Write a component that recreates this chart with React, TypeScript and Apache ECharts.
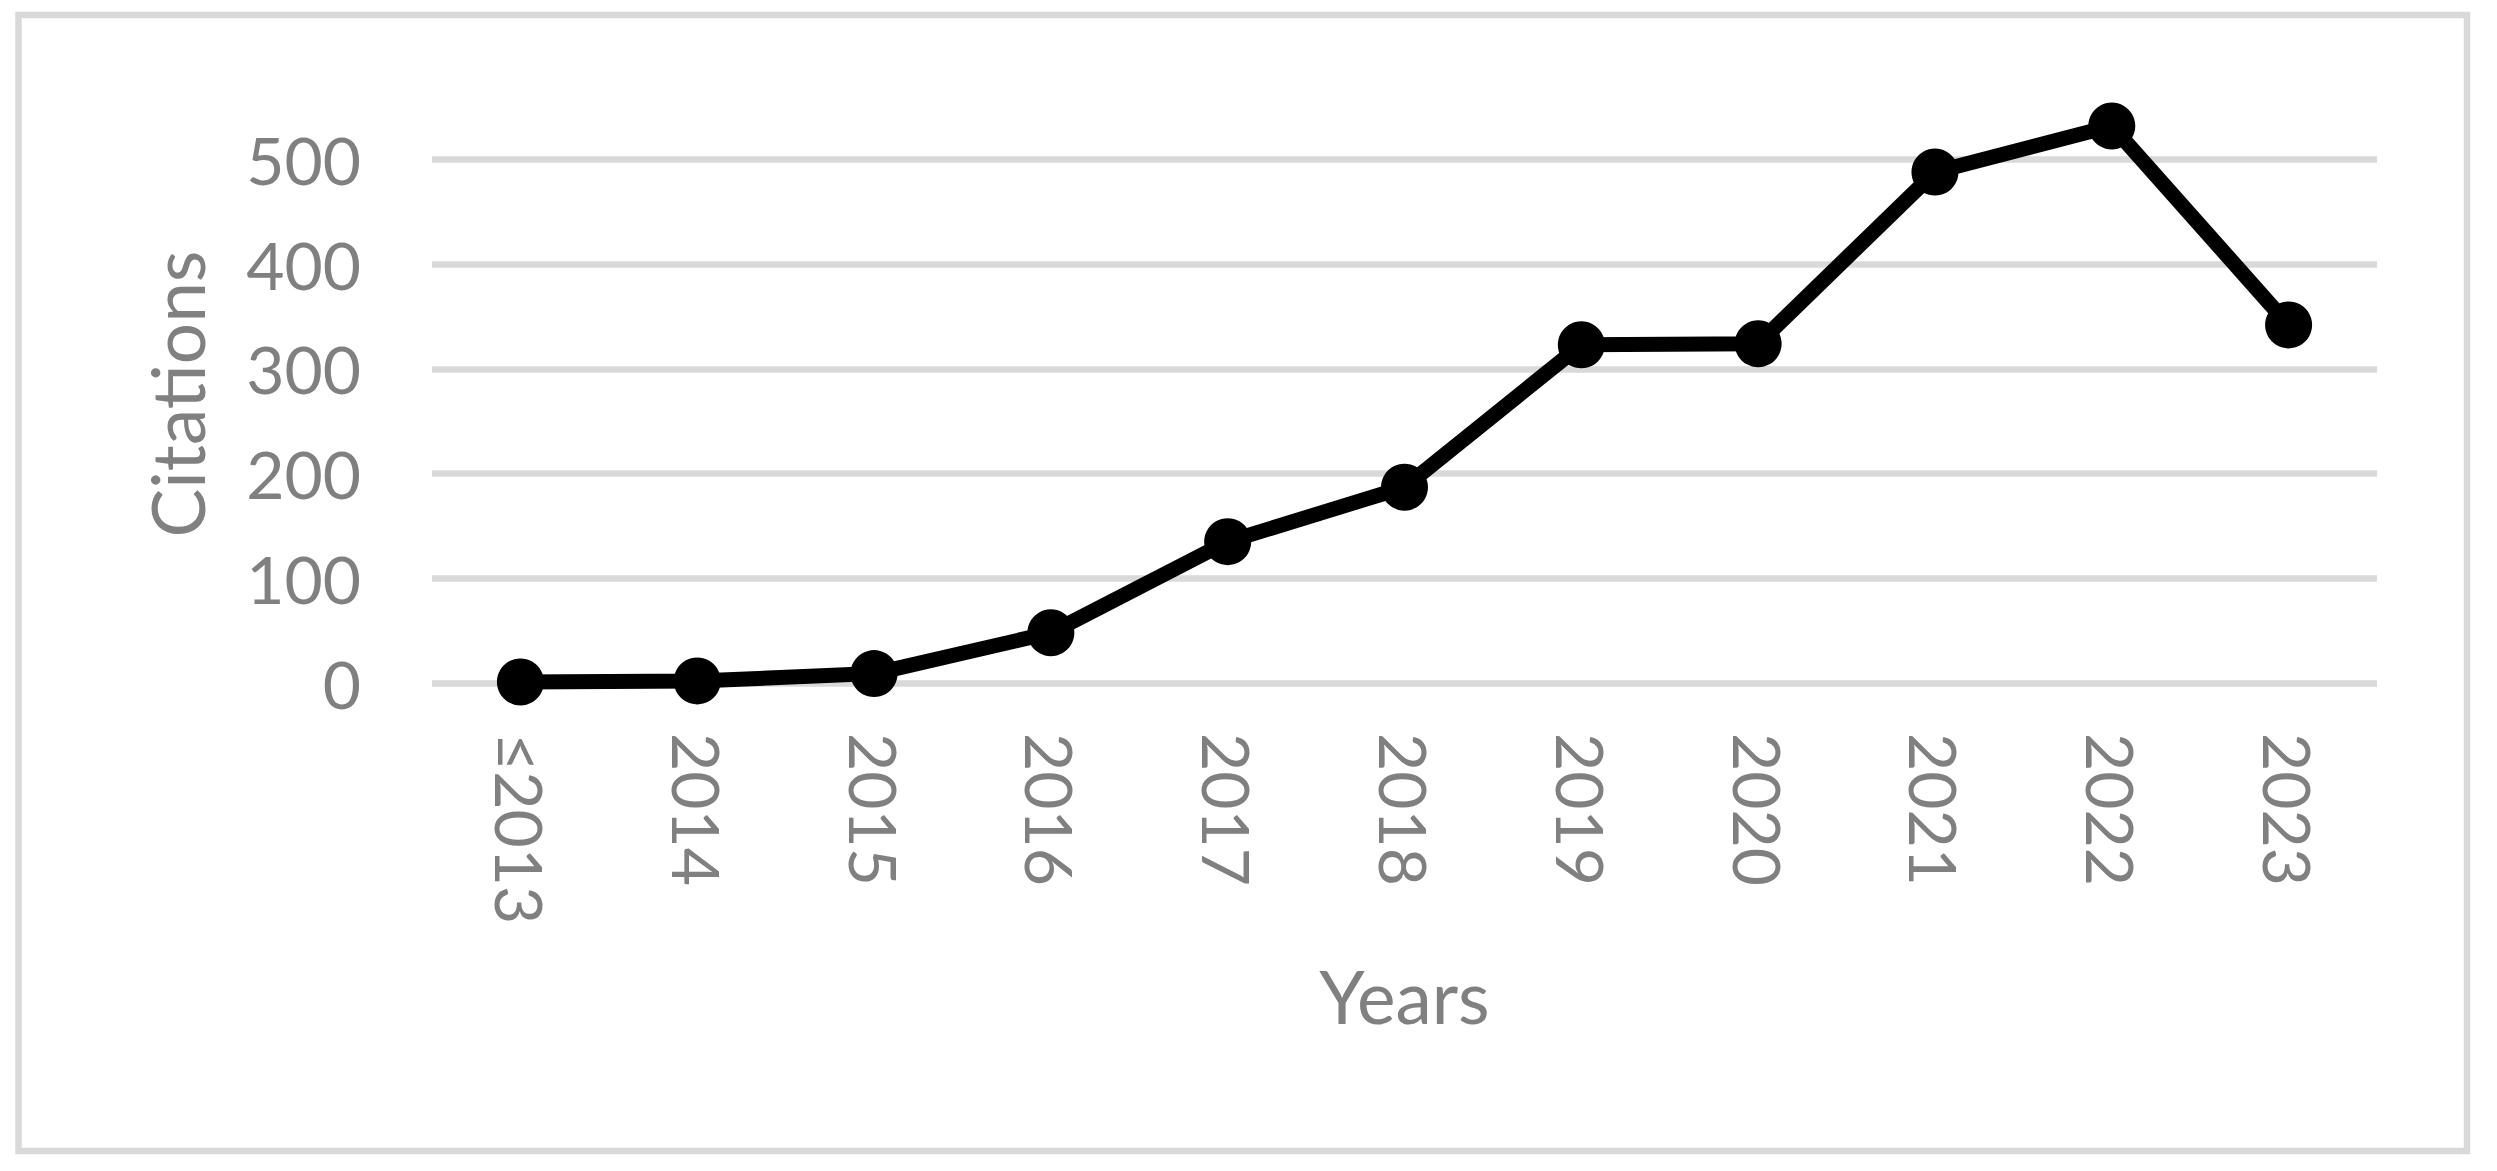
import React, { useEffect, useRef } from "react";
import * as echarts from "echarts";

const categories = ["≤2013", "2014", "2015", "2016", "2017", "2018", "2019", "2020", "2021", "2022", "2023"];
const citations = [1, 2, 9, 48, 135, 187, 323, 324, 488, 532, 342];
const yTicks = [0, 100, 200, 300, 400, 500];
const xAxisTitle = "Years";
const yAxisTitle = "Citations";

const TEXT = "#808080";
const GRID = "#d9d9d9";
const FONT = "Lato, 'Open Sans', sans-serif";

export default function App() {
  const ref = useRef<HTMLDivElement>(null);
  useEffect(() => {
    const chart = echarts.init(ref.current!, null, { renderer: "svg" });
    chart.setOption({
      animation: false,
      backgroundColor: "#ffffff",
      grid: { left: 432, top: 159.5, width: 1945, height: 523.5, containLabel: false },
      xAxis: {
        type: "category",
        data: categories,
        boundaryGap: true,
        axisLine: { show: false },
        axisTick: { show: false },
        axisLabel: { rotate: -90, margin: 50, color: TEXT, fontSize: 66, fontFamily: FONT },
        name: xAxisTitle,
        nameLocation: "middle",
        nameGap: 276,
        nameTextStyle: { color: TEXT, fontSize: 73, fontFamily: FONT },
        splitLine: { show: false },
      },
      yAxis: {
        type: "value",
        min: yTicks[0],
        max: yTicks[yTicks.length - 1],
        interval: yTicks[1] - yTicks[0],
        axisLine: { show: false },
        axisTick: { show: false },
        axisLabel: { margin: 71, color: TEXT, fontSize: 66, fontFamily: FONT },
        splitLine: { show: true, lineStyle: { color: GRID, width: 6.5 } },
      },
      graphic: [
        {
          type: "rect",
          shape: { x: 18.5, y: 15, width: 2448.5, height: 1136 },
          style: { fill: "none", stroke: GRID, lineWidth: 6.5 },
          silent: true,
        },
        {
          type: "text",
          x: 177,
          y: 394,
          rotation: Math.PI / 2,
          style: {
            text: yAxisTitle,
            fill: TEXT,
            fontSize: 73,
            fontFamily: FONT,
            align: "center",
            verticalAlign: "middle",
          },
          silent: true,
        },
      ],
      series: [
        {
          type: "line",
          data: citations,
          clip: false,
          symbol: "circle",
          symbolSize: 47,
          showSymbol: true,
          lineStyle: { color: "#000000", width: 15, join: "round", cap: "round" },
          itemStyle: { color: "#000000" },
          emphasis: { disabled: true },
        },
      ],
    });
    return () => chart.dispose();
  }, []);
  return (
    <div
      ref={ref}
      style={{ position: "fixed", left: 0, top: 0, width: 2497, height: 1171, background: "#fff" }}
    />
  );
}
